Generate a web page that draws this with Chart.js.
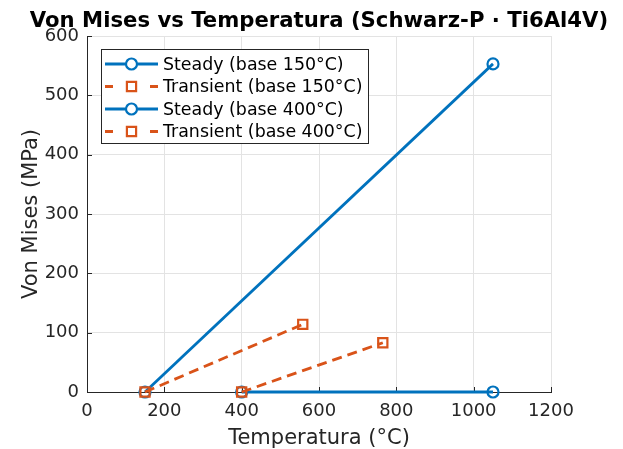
<!DOCTYPE html>
<html>
<head>
<meta charset="utf-8">
<script src="https://cdn.jsdelivr.net/npm/chart.js@4/dist/chart.umd.min.js"></script>
<style>
html,body{margin:0;padding:0;background:#fff;}
#wrap{width:623px;height:449px;position:relative;}
</style>
</head>
<body>
<div id="wrap"><canvas id="c" width="623" height="449"></canvas></div>
<script>
// ---- data ----
const chartTitle = 'Von Mises vs Temperatura (Schwarz-P · Ti6Al4V)';
const seriesNames = ['Steady (base 150°C)', 'Transient (base 150°C)', 'Steady (base 400°C)', 'Transient (base 400°C)'];
const steady150T = [150, 1050];
const steady150V = [0, 553];
const transient150T = [150, 558];
const transient150V = [0, 114];
const steady400T = [400, 1050];
const steady400V = [0, 0];
const transient400T = [400, 765];
const transient400V = [0, 83];
const xTicks = [0, 200, 400, 600, 800, 1000, 1200];
const yTicks = [0, 100, 200, 300, 400, 500, 600];

const BLUE = '#0072BD', ORANGE = '#D95319', AX = '#262626';
const FONT = "'DejaVu Sans', sans-serif";

function pts(t, v) { return t.map((x, i) => ({x: x, y: v[i]})); }

const styles = [
  {color: BLUE, dash: [], point: 'circle', r: 5.5},
  {color: ORANGE, dash: [10, 6], point: 'rect', r: 6.5},
  {color: BLUE, dash: [], point: 'circle', r: 5.5},
  {color: ORANGE, dash: [10, 6], point: 'rect', r: 6.5}
];
const dataList = [pts(steady150T, steady150V), pts(transient150T, transient150V), pts(steady400T, steady400V), pts(transient400T, transient400V)];

const datasets = dataList.map((d, i) => ({
  label: seriesNames[i],
  data: d,
  borderColor: styles[i].color,
  borderWidth: 2.8,
  borderDash: styles[i].dash,
  pointStyle: styles[i].point,
  pointRadius: styles[i].r,
  pointBorderWidth: 2.2,
  pointBorderColor: styles[i].color,
  pointBackgroundColor: 'rgba(0,0,0,0)',
  pointHoverRadius: styles[i].r,
  showLine: true,
  fill: false,
  tension: 0,
  clip: false,
  order: 4 - i
}));

const innerTicks = {
  id: 'innerTicks',
  beforeDatasetsDraw(chart) {
    const ctx = chart.ctx, a = chart.chartArea;
    const xs = chart.scales.x, ys = chart.scales.y;
    ctx.save();
    ctx.strokeStyle = AX; ctx.lineWidth = 1;
    ctx.beginPath();
    xTicks.forEach(v => { const p = Math.round(xs.getPixelForValue(v)) + 0.5; ctx.moveTo(p, a.bottom); ctx.lineTo(p, a.bottom - 5); });
    yTicks.forEach(v => { const p = Math.round(ys.getPixelForValue(v)) + 0.5; ctx.moveTo(a.left, p); ctx.lineTo(a.left + 5, p); });
    ctx.stroke();
    ctx.restore();
  }
};

const axesTitle = {
  id: 'axesTitle',
  afterDraw(chart) {
    const ctx = chart.ctx, a = chart.chartArea;
    ctx.save();
    ctx.font = "bold 21.2px " + FONT;
    ctx.fillStyle = '#000';
    ctx.textAlign = 'center';
    ctx.textBaseline = 'middle';
    ctx.fillText(chartTitle, (a.left + a.right) / 2, 21);
    ctx.restore();
  }
};

const boxLegend = {
  id: 'boxLegend',
  afterDraw(chart) {
    const ctx = chart.ctx;
    const x0 = 101, y0 = 49, w = 267, h = 94;
    ctx.save();
    ctx.fillStyle = '#fff';
    ctx.fillRect(x0, y0, w, h);
    ctx.strokeStyle = AX; ctx.lineWidth = 1;
    ctx.strokeRect(x0 + 0.5, y0 + 0.5, w, h);
    ctx.font = "17.4px " + FONT;
    ctx.textBaseline = 'middle';
    ctx.textAlign = 'left';
    seriesNames.forEach((name, i) => {
      const yy = 64 + i * 22.5;
      const st = styles[i];
      ctx.strokeStyle = st.color; ctx.lineWidth = 2.8;
      if (st.dash.length) {
        ctx.beginPath(); ctx.moveTo(105, yy); ctx.lineTo(113, yy); ctx.moveTo(150, yy); ctx.lineTo(158, yy); ctx.stroke();
      } else {
        ctx.beginPath(); ctx.moveTo(105, yy); ctx.lineTo(158, yy); ctx.stroke();
      }
      ctx.fillStyle = '#fff';
      ctx.strokeStyle = st.color; ctx.lineWidth = 2.2;
      Chart.helpers.drawPoint(ctx, {pointStyle: st.point, radius: st.r, rotation: 0, borderWidth: 2.2}, 131.5, yy);
      ctx.fillStyle = '#000';
      ctx.fillText(name, 163, yy + 1);
    });
    ctx.restore();
  }
};

new Chart(document.getElementById('c'), {
  type: 'scatter',
  data: {datasets: datasets},
  plugins: [innerTicks, axesTitle, boxLegend],
  options: {
    responsive: false,
    animation: false,
    layout: {padding: {left: 19, right: 72, top: 36, bottom: 0}},
    plugins: {
      legend: {display: false},
      tooltip: {enabled: false},
      title: {display: false}
    },
    scales: {
      x: {
        type: 'linear', min: 0, max: 1200,
        afterBuildTicks: s => { s.ticks = xTicks.map(v => ({value: v})); },
        afterFit: s => { s.height = 57; },
        ticks: {color: AX, font: {family: FONT, size: 18}, padding: 9, maxRotation: 0, callback: v => String(v)},
        grid: {color: '#e3e3e3', drawTicks: false, lineWidth: 1},
        border: {color: AX, width: 1},
        title: {display: true, text: 'Temperatura (°C)', color: AX, font: {family: FONT, size: 21}, padding: {top: 0, bottom: -2}}
      },
      y: {
        type: 'linear', min: 0, max: 600,
        afterBuildTicks: s => { s.ticks = yTicks.map(v => ({value: v})); },
        afterFit: s => { s.width = 68; },
        ticks: {color: AX, font: {family: FONT, size: 18}, padding: 8, callback: v => String(v)},
        grid: {color: '#e3e3e3', drawTicks: false, lineWidth: 1},
        border: {color: AX, width: 1},
        title: {display: true, text: 'Von Mises (MPa)', color: AX, font: {family: FONT, size: 21}, padding: {top: 0, bottom: 0}}
      }
    }
  }
});
</script>
</body>
</html>
